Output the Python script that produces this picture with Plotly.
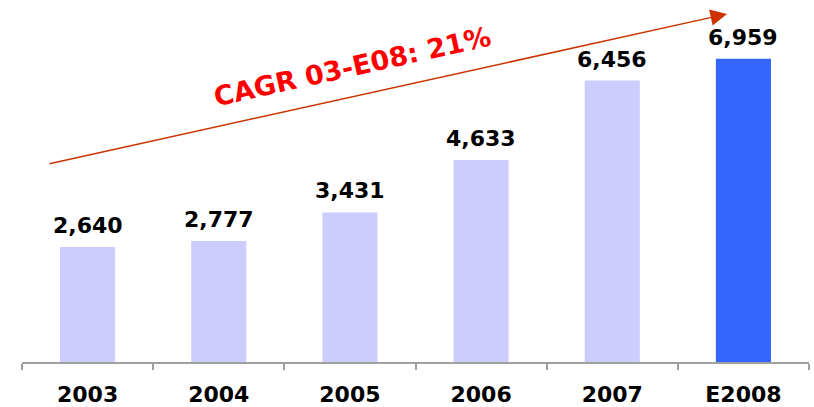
import plotly.graph_objects as go

# data
years = ["2003", "2004", "2005", "2006", "2007", "E2008"]
values = [2640, 2777, 3431, 4633, 6456, 6959]
bar_colors = ["#CCCCFF", "#CCCCFF", "#CCCCFF", "#CCCCFF", "#CCCCFF", "#3366FF"]
cagr_label = "CAGR 03-E08: 21%"

FONT = "DejaVu Sans"

fig = go.Figure()
fig.add_trace(go.Bar(
    x=years,
    y=values,
    marker=dict(color=bar_colors, line=dict(width=0)),
    width=0.42,
    hoverinfo="x+y",
))

# value labels above bars (x by category index, "2003" would be read as a number)
for i, v in enumerate(values):
    fig.add_annotation(
        x=i, y=v, xref="x", yref="y",
        text=f"<b>{v:,}</b>",
        showarrow=False,
        yanchor="bottom",
        yshift=7,
        font=dict(family=FONT, size=22, color="black"),
    )

# growth arrow (axis domain coords)
fig.add_annotation(
    x=0.8958, y=0.9615, xref="x domain", yref="y domain",
    ax=0.0330, ay=0.5467, axref="x domain", ayref="y domain",
    text="",
    showarrow=True,
    arrowhead=2,
    arrowsize=2.2,
    arrowwidth=1.5,
    arrowcolor="#CC3300",
    standoff=0,
)

fig.add_annotation(
    x=0.420, y=0.815, xref="paper", yref="paper",
    xanchor="center", yanchor="middle",
    text=f"<b>{cagr_label}</b>",
    showarrow=False,
    textangle=-12.5,
    font=dict(family=FONT, size=27, color="#FF0000"),
)

fig.update_layout(
    width=814,
    height=407,
    margin=dict(l=22, r=5, t=0, b=43),
    paper_bgcolor="white",
    plot_bgcolor="white",
    showlegend=False,
    bargap=0.58,
    xaxis=dict(
        type="category",
        range=[-0.5, 5.5],
        showline=True,
        linecolor="#A0A0A0",
        linewidth=1.5,
        ticks="outside",
        tickson="boundaries",
        ticklen=6,
        tickcolor="#A0A0A0",
        tickwidth=1.5,
        showgrid=False,
        ticklabelstandoff=12,
        tickangle=0,
        tickfont=dict(family=FONT, size=22, color="black", weight="bold"),
    ),
    yaxis=dict(
        range=[0, 8305],
        visible=False,
        showgrid=False,
        zeroline=False,
    ),
)

fig.write_html("out.html", config={"displayModeBar": False},
               post_script="document.body.style.margin='0';")
